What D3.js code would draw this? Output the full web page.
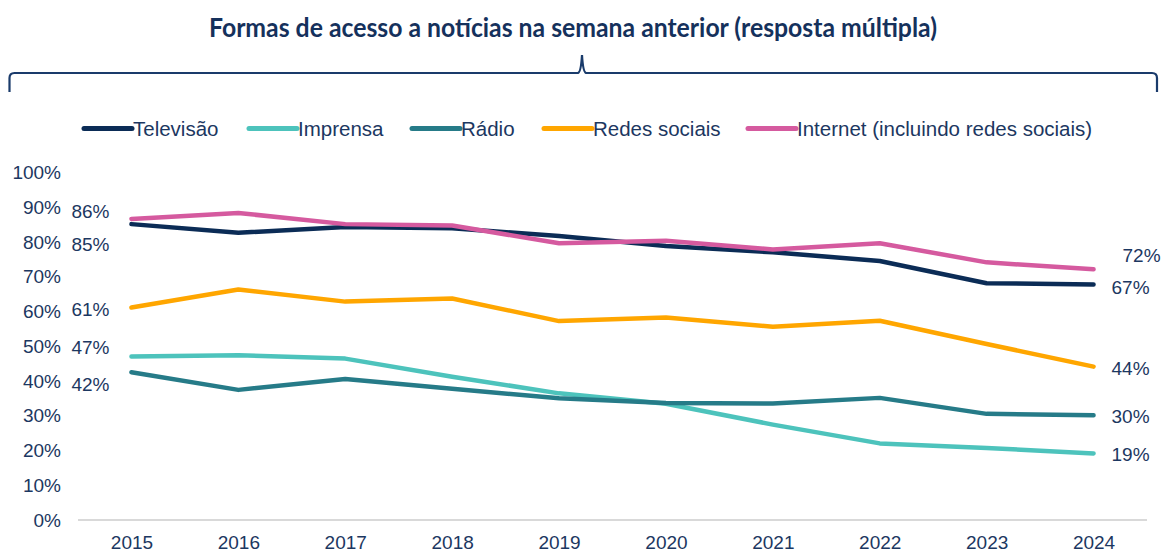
<!DOCTYPE html>
<html>
<head>
<meta charset="UTF-8">
<title>Formas de acesso a notícias</title>
<style>
  body { margin: 0; background: #fff; }
  svg { display: block; font-family: "Liberation Sans", Arial, sans-serif; }
</style>
</head>
<body>
<svg></svg>
<script src="https://d3js.org/d3.v7.min.js"></script>
<script>
// data
const years = ["2015", "2016", "2017", "2018", "2019", "2020", "2021", "2022", "2023", "2024"];
const seriesNames = ["Televisão", "Imprensa", "Rádio", "Redes sociais", "Internet (incluindo redes sociais)"];
const televisao = [85, 82.5, 84.2, 83.8, 81.6, 78.7, 76.9, 74.4, 68, 67.6];
const imprensa  = [46.9, 47.3, 46.3, 41.1, 36.3, 33.3, 27.3, 21.9, 20.6, 19];
const radio     = [42.4, 37.3, 40.4, 37.6, 34.9, 33.5, 33.4, 35, 30.4, 30];
const redes     = [61, 66.2, 62.7, 63.6, 57.1, 58.1, 55.5, 57.2, 50.5, 44];
const internet  = [86.5, 88.2, 85, 84.6, 79.5, 80.2, 77.7, 79.5, 74, 72];
const yTicks = [0, 10, 20, 30, 40, 50, 60, 70, 80, 90, 100];
const startLabels = ["85%", "47%", "42%", "61%", "86%"];
const endLabels = ["67%", "19%", "30%", "44%", "72%"];

const allValues = [televisao, imprensa, radio, redes, internet];
const colors = ["#0b2c56", "#4dc3bc", "#267b88", "#ffa600", "#d55a9f"];
// label nudges so the numbers don't collide
const startDy = [20, -10, 12, 1, -8];
const endDy = [2, 1, 1, 1, -14];
const endDx = [18, 18, 18, 18, 29];

const width = 1166, height = 553;
const navy = "#1c3761";

const svg = d3.select("svg")
  .attr("width", width)
  .attr("height", height);

// title + brace
svg.append("text")
  .attr("x", 573).attr("y", 37)
  .attr("text-anchor", "middle")
  .attr("font-family", "Lato, sans-serif")
  .attr("font-weight", "bold")
  .attr("font-size", 26)
  .attr("textLength", 728)
  .attr("lengthAdjust", "spacingAndGlyphs")
  .attr("fill", "#15315c")
  .text("Formas de acesso a notícias na semana anterior (resposta múltipla)");

svg.append("path")
  .attr("d", "M9.5,92 L9.5,78 Q9.5,73 14.5,73 L578,73 Q581,72 582,55 Q583,72 586,73 L1152,73 Q1157,73 1157,78 L1157,92")
  .attr("fill", "none")
  .attr("stroke", "#1a3b6b")
  .attr("stroke-width", 2.2);

// scales
const x = d3.scalePoint().domain(years).range([78, 1147]).padding(0.5);
const y = d3.scaleLinear().domain([0, 100]).range([519.5, 172]);

// legend
const legendX = [84, 249, 412, 544, 748];
const legend = svg.append("g");
seriesNames.forEach((name, i) => {
  legend.append("line")
    .attr("x1", legendX[i]).attr("x2", legendX[i] + 48)
    .attr("y1", 128.5).attr("y2", 128.5)
    .attr("stroke", colors[i])
    .attr("stroke-width", 5)
    .attr("stroke-linecap", "round");
  legend.append("text")
    .attr("x", legendX[i] + 49).attr("y", 136)
    .attr("font-size", 20.5)
    .attr("fill", navy)
    .text(name);
});

// y axis labels
svg.append("g").selectAll("text")
  .data(yTicks)
  .join("text")
  .attr("x", 61)
  .attr("y", d => y(d) + 7)
  .attr("text-anchor", "end")
  .attr("font-size", 19)
  .attr("fill", navy)
  .text(d => d + "%");

// x axis
const xAxis = svg.append("g")
  .attr("transform", "translate(0," + y(0) + ")")
  .call(d3.axisBottom(x).tickSize(0).tickPadding(16));
xAxis.select(".domain")
  .attr("d", "M78,0.5H1147")
  .attr("stroke", "#d9d9d9")
  .attr("stroke-width", 2);
xAxis.selectAll("text")
  .attr("font-size", 19)
  .attr("font-family", "Liberation Sans, Arial, sans-serif")
  .attr("fill", navy);

// lines
const line = d3.line()
  .x((d, i) => x(years[i]))
  .y(d => y(d));

svg.append("g").selectAll("path")
  .data(allValues)
  .join("path")
  .attr("d", line)
  .attr("fill", "none")
  .attr("stroke", (d, i) => colors[i])
  .attr("stroke-width", 4.5)
  .attr("stroke-linejoin", "round")
  .attr("stroke-linecap", "round");

// start and end labels
const lab = svg.append("g")
  .attr("font-size", 19)
  .attr("fill", navy);
allValues.forEach((vals, i) => {
  lab.append("text")
    .attr("x", x(years[0]) - 60)
    .attr("y", y(vals[0]) + startDy[i] + 7)
    .text(startLabels[i]);
  const last = vals.length - 1;
  lab.append("text")
    .attr("x", x(years[last]) + endDx[i])
    .attr("y", y(vals[last]) + endDy[i] + 7)
    .text(endLabels[i]);
});
</script>
</body>
</html>
